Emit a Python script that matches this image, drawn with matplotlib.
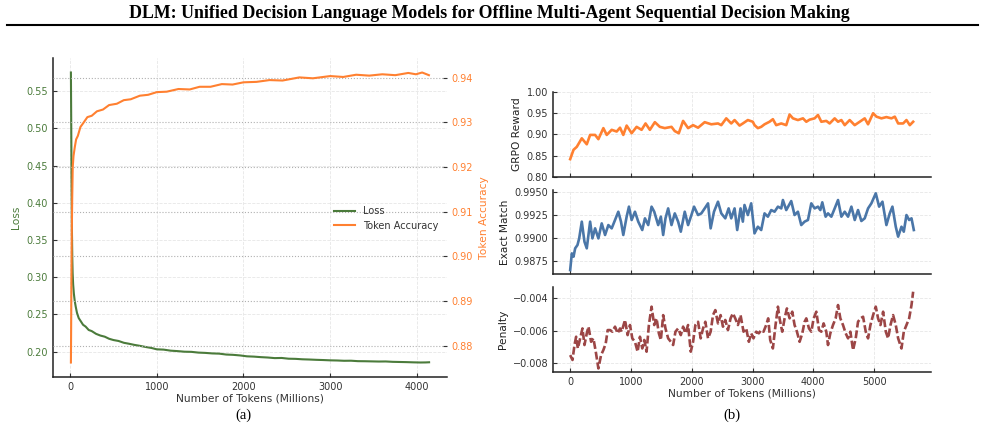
import matplotlib
matplotlib.use("Agg")
import matplotlib.pyplot as plt
from matplotlib.lines import Line2D
from matplotlib.ticker import FuncFormatter, FormatStrFormatter

# ---------------- data: panel (a) ----------------
loss_tokens = [10, 14, 18, 22, 26, 30, 36, 44, 54, 66, 80, 100, 125, 150, 180, 215, 250, 300, 350,
               400, 450, 500, 560, 620, 680, 740, 800, 870, 940, 1000, 1080, 1160, 1240, 1320,
               1400, 1480, 1560, 1640, 1720, 1800, 1880, 1960, 2040, 2120, 2200, 2280, 2360,
               2440, 2520, 2600, 2680, 2760, 2840, 2920, 3000, 3080, 3160, 3240, 3320, 3400,
               3480, 3560, 3640, 3720, 3800, 3880, 3960, 4040, 4100, 4140]
loss_values = [0.575, 0.500, 0.420, 0.360, 0.325, 0.305, 0.290, 0.278, 0.268, 0.260, 0.252, 0.245,
               0.2405, 0.2360, 0.2335, 0.2290, 0.2275, 0.2238, 0.2215, 0.2200, 0.2172, 0.2155,
               0.2142, 0.2118, 0.2105, 0.2090, 0.2078, 0.2062, 0.2048, 0.2030, 0.2026, 0.2012,
               0.2006, 0.1998, 0.1996, 0.1986, 0.1982, 0.1975, 0.1972, 0.1960, 0.1956, 0.1948,
               0.1936, 0.1932, 0.1925, 0.1920, 0.1912, 0.1914, 0.1904, 0.1902, 0.1896, 0.1893,
               0.1889, 0.1886, 0.1882, 0.1880, 0.1876, 0.1877, 0.1871, 0.1870, 0.1868, 0.1866,
               0.1867, 0.1862, 0.1860, 0.1858, 0.1855, 0.1853, 0.1854, 0.1856]

acc_tokens = [10, 13, 16, 20, 25, 31, 40, 55, 70, 90, 120, 150, 200, 250, 310, 380, 450, 540,
              620, 700, 805, 900, 1000, 1115, 1250, 1380, 1494, 1620, 1750, 1874, 2000, 2150,
              2300, 2450, 2644, 2800, 3000, 3150, 3299, 3450, 3600, 3750, 3900, 3988, 4060, 4138]
acc_values = [0.8762, 0.8850, 0.8950, 0.9050, 0.9130, 0.9200, 0.9225, 0.9245, 0.9262, 0.9270,
              0.9290, 0.9298, 0.9312, 0.9315, 0.9325, 0.9329, 0.9339, 0.9342, 0.9350, 0.9352,
              0.9360, 0.9362, 0.9368, 0.9369, 0.9375, 0.9374, 0.9380, 0.9380, 0.9386, 0.9385,
              0.9390, 0.9391, 0.9395, 0.9394, 0.9401, 0.9399, 0.9404, 0.9402, 0.9407, 0.9405,
              0.9408, 0.9406, 0.9411, 0.9408, 0.9412, 0.9406]

# ---------------- data: panel (b) ----------------
grpo_tokens = [0, 55, 109, 191, 273, 328, 410, 464, 546, 601, 683, 765, 820, 874, 929, 1011, 1093,
               1175, 1240, 1311, 1393, 1475, 1557, 1667, 1721, 1787, 1858, 1940, 2022, 2104, 2213,
               2322, 2432, 2486, 2568, 2650, 2705, 2787, 2841, 2923, 3005, 3033, 3088, 3143, 3198,
               3280, 3335, 3390, 3473, 3555, 3610, 3665, 3747, 3830, 3885, 3940, 4022, 4077, 4132,
               4214, 4269, 4352, 4407, 4462, 4517, 4599, 4681, 4764, 4846, 4901, 4984, 5039, 5121,
               5203, 5286, 5341, 5396, 5478, 5533, 5588, 5643]
grpo_reward = [0.842, 0.864, 0.871, 0.891, 0.877, 0.899, 0.899, 0.889, 0.915, 0.899, 0.911, 0.907,
               0.916, 0.899, 0.921, 0.903, 0.918, 0.911, 0.926, 0.911, 0.929, 0.918, 0.915, 0.918,
               0.908, 0.903, 0.932, 0.915, 0.922, 0.916, 0.929, 0.924, 0.926, 0.922, 0.938, 0.926,
               0.934, 0.921, 0.926, 0.934, 0.930, 0.922, 0.915, 0.918, 0.924, 0.930, 0.936, 0.922,
               0.926, 0.922, 0.947, 0.938, 0.934, 0.938, 0.930, 0.935, 0.938, 0.946, 0.930, 0.932,
               0.926, 0.938, 0.930, 0.934, 0.922, 0.934, 0.922, 0.930, 0.938, 0.924, 0.950, 0.942,
               0.938, 0.941, 0.938, 0.942, 0.926, 0.926, 0.934, 0.922, 0.930]

em_tokens = [0, 27, 55, 82, 120, 148, 191, 235, 273, 328, 366, 410, 464, 519, 574, 628, 683, 738,
             792, 836, 874, 929, 967, 1011, 1066, 1120, 1186, 1230, 1284, 1339, 1383, 1448, 1492,
             1530, 1568, 1612, 1667, 1721, 1776, 1820, 1885, 1940, 1995, 2038, 2104, 2158, 2213,
             2268, 2311, 2366, 2432, 2486, 2552, 2607, 2650, 2705, 2748, 2803, 2841, 2868, 2923,
             2978, 3033, 3088, 3143, 3198, 3253, 3308, 3363, 3418, 3473, 3500, 3555, 3637, 3692,
             3747, 3802, 3857, 3912, 3967, 4022, 4077, 4116, 4148, 4203, 4242, 4297, 4352, 4407,
             4462, 4517, 4572, 4627, 4682, 4736, 4791, 4846, 4901, 4956, 5028, 5083, 5138, 5203,
             5258, 5302, 5357, 5396, 5451, 5489, 5533, 5577, 5616, 5654]
exact_match = [0.98652, 0.98833, 0.98797, 0.98888, 0.98924, 0.98996, 0.99178, 0.98960, 0.98888,
               0.99178, 0.98996, 0.99105, 0.98996, 0.99159, 0.99033, 0.99141, 0.99105, 0.99196,
               0.99286, 0.99178, 0.99033, 0.99232, 0.99341, 0.99196, 0.99286, 0.99178, 0.99087,
               0.99214, 0.99141, 0.99341, 0.99286, 0.99141, 0.99232, 0.99033, 0.99214, 0.99322,
               0.99141, 0.99268, 0.99178, 0.99069, 0.99286, 0.99141, 0.99250, 0.99341, 0.99250,
               0.99268, 0.99322, 0.99377, 0.99105, 0.99286, 0.99395, 0.99268, 0.99214, 0.99322,
               0.99214, 0.99322, 0.99087, 0.99322, 0.99178, 0.99359, 0.99250, 0.99377, 0.99051,
               0.99123, 0.99087, 0.99268, 0.99232, 0.99304, 0.99286, 0.99341, 0.99322, 0.99413,
               0.99304, 0.99402, 0.99250, 0.99286, 0.99141, 0.99178, 0.99196, 0.99377, 0.99322,
               0.99341, 0.99304, 0.99388, 0.99232, 0.99268, 0.99232, 0.99322, 0.99413, 0.99232,
               0.99286, 0.99232, 0.99341, 0.99196, 0.99304, 0.99185, 0.99214, 0.99322, 0.99377,
               0.99486, 0.99341, 0.99395, 0.99141, 0.99268, 0.99341, 0.99123, 0.99015, 0.99123,
               0.99069, 0.99250, 0.99196, 0.99214, 0.99087]

pen_tokens = [0, 38, 71, 98, 126, 164, 202, 235, 273, 301, 344, 382, 421, 464, 508, 546, 585, 617,
              656, 694, 738, 781, 820, 847, 902, 945, 984, 1022, 1066, 1109, 1148, 1186, 1219,
              1257, 1295, 1339, 1383, 1421, 1459, 1492, 1530, 1568, 1612, 1656, 1694, 1732, 1776,
              1820, 1858, 1896, 1940, 1984, 2022, 2060, 2104, 2147, 2186, 2224, 2268, 2311, 2350,
              2388, 2432, 2475, 2514, 2552, 2596, 2639, 2677, 2716, 2760, 2803, 2852, 2896, 2940,
              2978, 3016, 3060, 3104, 3143, 3181, 3225, 3258, 3291, 3335, 3379, 3418, 3445, 3489,
              3528, 3566, 3610, 3654, 3692, 3731, 3775, 3819, 3857, 3885, 3929, 3967, 4006, 4050,
              4094, 4132, 4170, 4214, 4242, 4280, 4324, 4368, 4407, 4445, 4489, 4533, 4572, 4610,
              4654, 4698, 4736, 4775, 4819, 4863, 4901, 4940, 4984, 5028, 5066, 5105, 5149, 5193,
              5231, 5270, 5313, 5357, 5396, 5451, 5489, 5533, 5577, 5616, 5643]
penalty = [-0.00751, -0.00781, -0.00689, -0.00638, -0.00710, -0.00648, -0.00587, -0.00689,
           -0.00617, -0.00576, -0.00669, -0.00648, -0.00730, -0.00833, -0.00751, -0.00720,
           -0.00679, -0.00597, -0.00597, -0.00607, -0.00576, -0.00617, -0.00587, -0.00607,
           -0.00535, -0.00628, -0.00566, -0.00648, -0.00669, -0.00730, -0.00638, -0.00710,
           -0.00658, -0.00730, -0.00566, -0.00453, -0.00566, -0.00525, -0.00617, -0.00658,
           -0.00505, -0.00587, -0.00648, -0.00669, -0.00689, -0.00607, -0.00587, -0.00628,
           -0.00576, -0.00617, -0.00566, -0.00730, -0.00669, -0.00566, -0.00546, -0.00648,
           -0.00587, -0.00546, -0.00648, -0.00607, -0.00505, -0.00474, -0.00556, -0.00505,
           -0.00576, -0.00535, -0.00597, -0.00525, -0.00494, -0.00525, -0.00566, -0.00505,
           -0.00607, -0.00587, -0.00669, -0.00617, -0.00648, -0.00607, -0.00617, -0.00597,
           -0.00607, -0.00566, -0.00525, -0.00658, -0.00710, -0.00566, -0.00453, -0.00525,
           -0.00607, -0.00525, -0.00464, -0.00525, -0.00484, -0.00566, -0.00607, -0.00669,
           -0.00617, -0.00546, -0.00525, -0.00587, -0.00607, -0.00525, -0.00484, -0.00597,
           -0.00607, -0.00556, -0.00607, -0.00689, -0.00617, -0.00566, -0.00525, -0.00443,
           -0.00525, -0.00566, -0.00617, -0.00648, -0.00607, -0.00720, -0.00648, -0.00546,
           -0.00525, -0.00515, -0.00607, -0.00648, -0.00566, -0.00505, -0.00453, -0.00525,
           -0.00566, -0.00484, -0.00607, -0.00648, -0.00566, -0.00505, -0.00566, -0.00648,
           -0.00710, -0.00607, -0.00566, -0.00525, -0.00443, -0.00361]

left_xticks = [0, 1000, 2000, 3000, 4000]
right_xticks = [0, 1000, 2000, 3000, 4000, 5000]
loss_yticks = [0.20, 0.25, 0.30, 0.35, 0.40, 0.45, 0.50, 0.55]
acc_yticks = [0.88, 0.89, 0.90, 0.91, 0.92, 0.93, 0.94]
grpo_yticks = [0.80, 0.85, 0.90, 0.95, 1.00]
em_yticks = [0.9875, 0.9900, 0.9925, 0.9950]
pen_yticks = [-0.008, -0.006, -0.004]

# ---------------- styling ----------------
GREEN = "#4b7b3b"
ORANGE = "#ff8030"
BLUE = "#4a76a8"
RED = "#9c4646"
TXT = "#333333"
W, H = 985, 446

plt.rcParams["font.family"] = ["DejaVu Sans"]
plt.rcParams["font.size"] = 7
plt.rcParams["axes.unicode_minus"] = True

fig = plt.figure(figsize=(W / 100, H / 100), dpi=100)


def rect(l, t, r, b):
    return [l / W, 1 - b / H, (r - l) / W, (b - t) / H]


def style(ax):
    for s in ("top", "right"):
        ax.spines[s].set_visible(False)
    for s in ("left", "bottom"):
        ax.spines[s].set_color("#222222")
        ax.spines[s].set_linewidth(1.1)
    ax.tick_params(direction="in", length=3, width=0.8, colors="#333333", labelsize=7)
    ax.grid(True, linestyle="--", color="#e6e6e6", linewidth=0.6)
    ax.set_axisbelow(True)


# header
fig.text(0.497, 1 - 13.5 / H,
         "DLM: Unified Decision Language Models for Offline Multi-Agent Sequential Decision Making",
         ha="center", va="center", fontfamily="Liberation Serif", fontweight="bold", fontsize=12.9)
fig.add_artist(Line2D([7 / W, 978 / W], [1 - 25 / H, 1 - 25 / H], transform=fig.transFigure,
                      color="black", linewidth=1.5))

# ---------------- panel (a) ----------------
ax = fig.add_axes(rect(53, 58, 447, 377))
style(ax)
ax.plot(loss_tokens, loss_values, color=GREEN, linewidth=1.5, label="Loss")
ax.set_xticks(left_xticks)
ax.set_yticks(loss_yticks)
ax.yaxis.set_major_formatter(FormatStrFormatter("%.2f"))
ax.tick_params(axis="y", labelcolor=GREEN)
ax.set_ylabel("Loss", color=GREEN, fontsize=7.7, labelpad=4)
ax.set_xlabel("Number of Tokens (Millions)", color=TXT, fontsize=7.7, labelpad=1)
ax.margins(x=0.05, y=0.05)

ax2 = ax.twinx()
for s in ax2.spines.values():
    s.set_visible(False)
ax2.plot(acc_tokens, acc_values, color=ORANGE, linewidth=1.5, label="Token Accuracy")
ax2.set_yticks(acc_yticks)
ax2.yaxis.set_major_formatter(FormatStrFormatter("%.2f"))
ax2.tick_params(direction="in", length=3, width=0.8, labelsize=7, labelcolor=ORANGE,
                color="#333333")
ax2.grid(True, linestyle=":", color="#b0b0b0", linewidth=0.8)
ax2.set_ylabel("Token Accuracy", color=ORANGE, fontsize=7.7, labelpad=4)
ax2.margins(y=0.05)

h1, l1 = ax.get_legend_handles_labels()
h2, l2 = ax2.get_legend_handles_labels()
leg = ax2.legend(h1 + h2, l1 + l2, loc="center right", frameon=False, fontsize=7,
                 handlelength=2.2, labelcolor=TXT, bbox_to_anchor=(1.0, 0.497))

# ---------------- panel (b) ----------------
axg = fig.add_axes(rect(553, 92, 931, 177))
axe = fig.add_axes(rect(553, 190, 931, 274), sharex=axg)
axp = fig.add_axes(rect(553, 287, 931, 372), sharex=axg)
for a in (axg, axe, axp):
    style(a)

axg.plot(grpo_tokens, grpo_reward, color=ORANGE, linewidth=1.9)
axg.set_ylim(0.80, 1.00)
axg.set_yticks(grpo_yticks)
axg.yaxis.set_major_formatter(FormatStrFormatter("%.2f"))
axg.set_ylabel("GRPO Reward", color="#222222", fontsize=7.7, labelpad=3)

axe.plot(em_tokens, exact_match, color=BLUE, linewidth=1.9)
axe.set_ylim(0.98609, 0.99522)
axe.set_yticks(em_yticks)
axe.yaxis.set_major_formatter(FormatStrFormatter("%.4f"))
axe.set_ylabel("Exact Match", color="#222222", fontsize=7.7, labelpad=3)

axp.plot(pen_tokens, penalty, color=RED, linewidth=1.9, linestyle=(0, (3.0, 1.1)))
axp.set_ylim(-0.00855, -0.00332)
axp.set_yticks(pen_yticks)
axp.yaxis.set_major_formatter(FuncFormatter(lambda v, p: f"{v:.3f}".replace("-", "\u2212")))
axp.set_ylabel("Penalty", color="#222222", fontsize=7.7, labelpad=3)
axp.set_xlabel("Number of Tokens (Millions)", color=TXT, fontsize=7.7, labelpad=1)

axg.set_xticks(right_xticks)
axg.margins(x=0.05)
for a in (axg, axe):
    a.tick_params(labelbottom=False)

# captions
fig.text(243 / W, 1 - 415 / H, "(a)", ha="center", va="center",
         fontfamily="Liberation Serif", fontsize=10.5)
fig.text(732 / W, 1 - 415 / H, "(b)", ha="center", va="center",
         fontfamily="Liberation Serif", fontsize=10.5)

fig.savefig("out.png", dpi=100)
